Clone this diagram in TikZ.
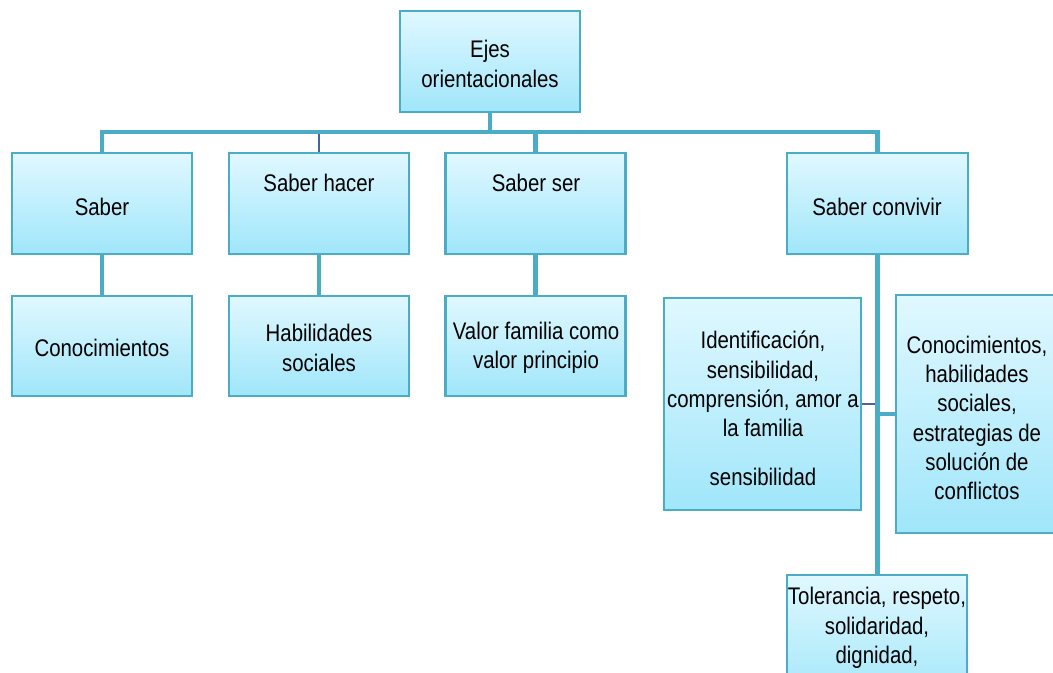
\documentclass[tikz,border=0pt]{standalone}
\usepackage{fontspec}
\setmainfont{Liberation Sans}[FakeStretch=0.85]
\definecolor{bordc}{RGB}{75,172,198}
\definecolor{topc}{RGB}{224,248,255}
\definecolor{botc}{RGB}{160,230,250}
\definecolor{darkc}{RGB}{70,100,160}
\begin{document}
\begin{tikzpicture}[x=0.75pt,y=-0.75pt,
  box/.style={draw=bordc, line width=1.6pt, top color=topc, bottom color=botc,
    inner sep=0pt, minimum width=135pt, minimum height=75.75pt},
  lbl/.style={font=\fontsize{18}{22}\selectfont, align=center, inner sep=0pt, text=black},
  conn/.style={draw=bordc, line width=3.4pt},
  thinconn/.style={draw=darkc, line width=2.2pt}]
\clip (0,0) rectangle (1053,673);
\fill[white] (0,0) rectangle (1053,673);
\coordinate (bar) at (0,132);

% boxes
\node[box] (top) at (490,61.5) {};
\node[box] (saber) at (102,203.5) {};
\node[box] (hacer) at (319,203.5) {};
\node[box] (ser) at (535.5,203.5) {};
\node[box, minimum width=135.75pt] (conv) at (877.5,203.5) {};
\node[box, minimum height=75pt] (conoc) at (102,346) {};
\node[box, minimum height=75pt] (habil) at (319,346) {};
\node[box, minimum height=75pt] (valor) at (535.5,346) {};
\node[box, minimum width=147.75pt, minimum height=159pt] (ident) at (762.5,404) {};
\node[box, minimum height=178.5pt] (right) at (986,414) {};
\node[box, minimum height=97.5pt] (tol) at (877,640) {};

% connectors
\draw[thinconn] (hacer.north) -- (hacer.north |- bar);
\draw[thinconn] (ident.east) -- (ident.east -| conv.south);
\draw[conn] (top.south) -- (top.south |- bar);
\draw[conn] (saber.north) -- (saber.north |- bar) -- (conv.north |- bar) -- (conv.north);
\draw[conn] (ser.north) -- (ser.north |- bar);
\draw[conn] (saber.south) -- (conoc.north);
\draw[conn] (hacer.south) -- (habil.north);
\draw[conn] (ser.south) -- (valor.north);
\draw[conn] (conv.south) -- (conv.south |- tol.north);
\draw[conn] (right.west) -- (right.west -| conv.south);

% texts
\node[lbl] (tTop) at (490,64) {Ejes\\orientacionales};
\node[lbl] (tSaber) at (102,207) {Saber};
\node[lbl] (tHacer) at (319,183) {Saber hacer};
\node[lbl] (tSer) at (536,183) {Saber ser};
\node[lbl] (tConv) at (877,207) {Saber convivir};
\node[lbl] (tConoc) at (102,348) {Conocimientos};
\node[lbl] (tHabil) at (319,348) {Habilidades\\sociales};
\node[lbl] (tValor) at (536,348) {Valor familia como\\valor principio};
\node[lbl] (tIdent) at (763,384) {Identificación,\\sensibilidad,\\comprensión, amor a\\la familia};
\node[lbl] (tSens) at (763,477) {sensibilidad};
\node[lbl] (tRight) at (977,418) {Conocimientos,\\habilidades\\sociales,\\estrategias de\\solución de\\conflictos};
\node[lbl] (tTol) at (877,628) {Tolerancia, respeto,\\solidaridad,\\dignidad,};
\end{tikzpicture}
\end{document}
